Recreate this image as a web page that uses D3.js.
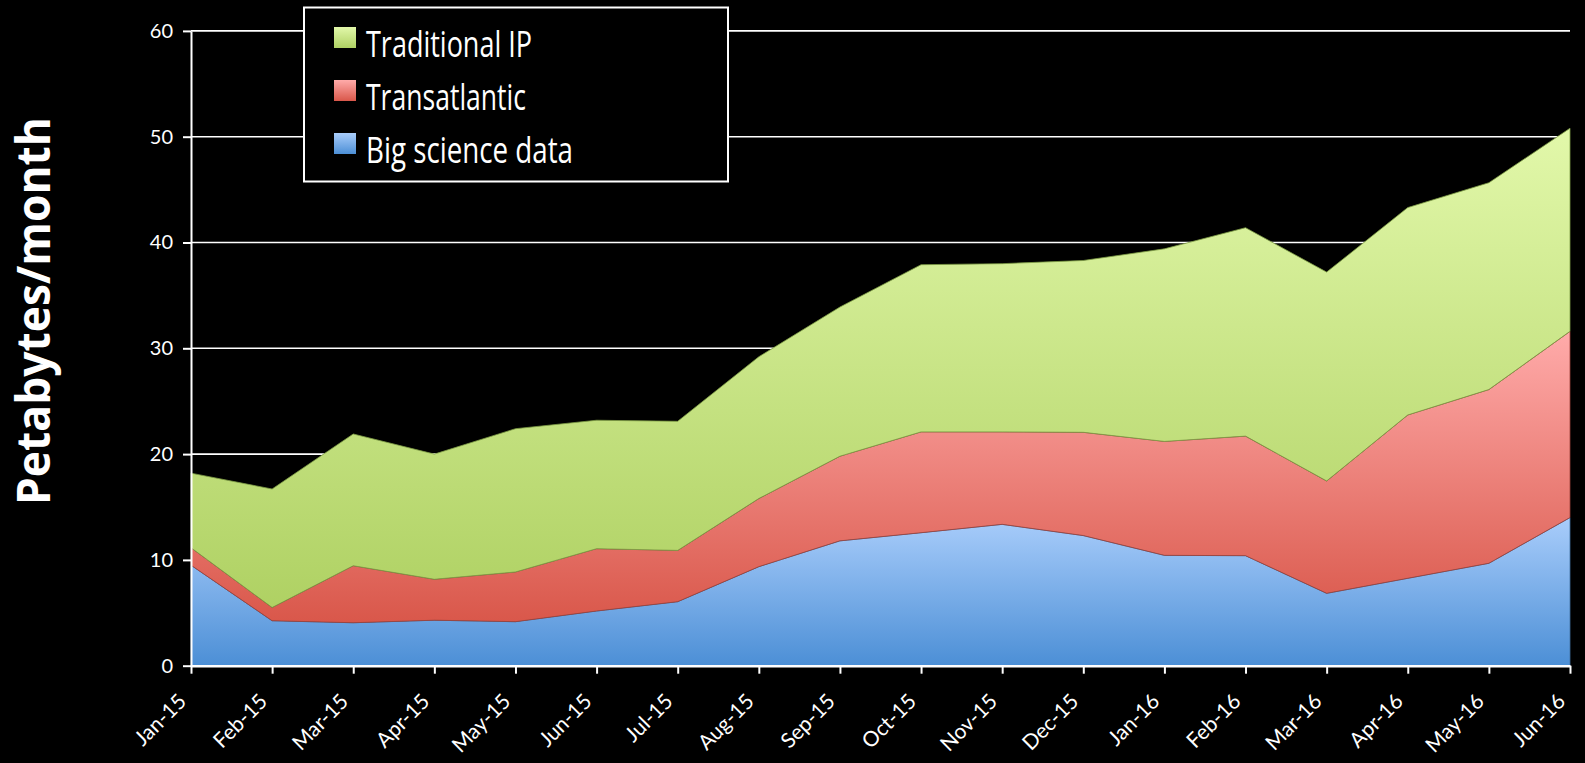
<!DOCTYPE html>
<html>
<head>
<meta charset="utf-8">
<script src="https://cdn.jsdelivr.net/npm/d3@7"></script>
<style>
  html, body { margin: 0; padding: 0; background: #000; }
  svg { display: block; }
</style>
</head>
<body>
<svg id="chart" width="1585" height="763"></svg>
<script>
const months = ["Jan-15","Feb-15","Mar-15","Apr-15","May-15","Jun-15","Jul-15","Aug-15","Sep-15","Oct-15","Nov-15","Dec-15","Jan-16","Feb-16","Mar-16","Apr-16","May-16","Jun-16"];
const bigScience    = [9.5, 4.25, 4.06, 4.3, 4.16, 5.17, 6.05, 9.36, 11.8, 12.57, 13.36, 12.3, 10.43, 10.4, 6.84, 8.26, 9.68, 14.0];
const transatlantic = [1.65, 1.25, 5.39, 3.87, 4.7, 5.89, 4.85, 6.44, 8.0, 9.53, 8.74, 9.76, 10.77, 11.3, 10.62, 15.44, 16.42, 17.6];
const traditionalIP = [7.05, 11.2, 12.45, 11.83, 13.54, 12.14, 12.2, 13.4, 14.1, 15.8, 15.9, 16.24, 18.2, 19.7, 19.74, 19.6, 19.55, 19.2];
const yTicks = [0, 10, 20, 30, 40, 50, 60];
const seriesNames = ["Big science data", "Transatlantic", "Traditional IP"];

const svg = d3.select("#chart");
const mLeft = 191, mRight = 1570, mTop = 30.9, mBottom = 665.7;

const x = d3.scalePoint().domain(months).range([mLeft, mRight]);
const y = d3.scaleLinear().domain([0, 60]).range([mBottom, mTop]);

const rows = months.map((m, i) => ({
  month: m,
  "Big science data": bigScience[i],
  "Transatlantic": transatlantic[i],
  "Traditional IP": traditionalIP[i]
}));
const stacked = d3.stack().keys(seriesNames)(rows);

const grads = {
  "Big science data": { top: "#a9cdfb", bottom: "#4c8fd6", stroke: "#3f6f9f" },
  "Transatlantic":    { top: "#ffabaa", bottom: "#d9574a", stroke: "#9a4038" },
  "Traditional IP":   { top: "#e2f8aa", bottom: "#afd163", stroke: "#7c9a44" }
};

const defs = svg.append("defs");
seriesNames.forEach((k, i) => {
  const g = defs.append("linearGradient").attr("id", "g" + i)
    .attr("x1", 0).attr("y1", 0).attr("x2", 0).attr("y2", 1);
  g.append("stop").attr("offset", "0%").attr("stop-color", grads[k].top);
  g.append("stop").attr("offset", "100%").attr("stop-color", grads[k].bottom);
});

// gridlines
svg.append("g").selectAll("line").data(yTicks.filter(d => d > 0)).join("line")
  .attr("x1", mLeft).attr("x2", mRight)
  .attr("y1", d => y(d)).attr("y2", d => y(d))
  .attr("stroke", "#fff").attr("stroke-width", 1.6);

// areas
const area = d3.area()
  .x(d => x(d.data.month))
  .y0(d => y(d[0]))
  .y1(d => y(d[1]));

svg.append("g").selectAll("path").data(stacked).join("path")
  .attr("d", area)
  .attr("fill", (d, i) => `url(#g${i})`)
  .attr("stroke", d => grads[d.key].stroke)
  .attr("stroke-width", 0.8)
  .attr("stroke-linejoin", "round");

// y axis
const yAxis = d3.axisLeft(y).tickValues(yTicks).tickSize(8).tickSizeOuter(0).tickPadding(10);
const gy = svg.append("g").attr("transform", `translate(${mLeft},0)`).call(yAxis);
gy.select(".domain").attr("stroke", "#fff").attr("stroke-width", 2);
gy.selectAll(".tick line").attr("stroke", "#fff").attr("stroke-width", 2);
gy.selectAll(".tick text").attr("fill", "#fff").style("font-family", "Lato, 'Open Sans', sans-serif").style("font-size", "20px");

// x axis
const xAxis = d3.axisBottom(x).tickSize(8).tickSizeOuter(0).tickPadding(6);
const gx = svg.append("g").attr("transform", `translate(0,${mBottom})`).call(xAxis);
gx.select(".domain").attr("stroke", "#fff").attr("stroke-width", 2.5);
gx.selectAll(".tick line").attr("stroke", "#fff").attr("stroke-width", 2);
gx.selectAll(".tick text")
  .attr("fill", "#fff")
  .style("font-family", "Lato, 'Open Sans', sans-serif")
  .style("font-size", "21px")
  .attr("text-anchor", "end")
  .attr("y", 0)
  .attr("dy", "0")
  .attr("transform", "translate(-4,37) rotate(-45)");

// y axis title
svg.append("text")
  .attr("transform", "translate(50,311) rotate(-90)")
  .attr("text-anchor", "middle")
  .attr("fill", "#fff")
  .style("font-family", "'Open Sans', Lato, sans-serif")
  .style("font-weight", "bold")
  .style("font-size", "46px")
  .attr("textLength", 388)
  .attr("lengthAdjust", "spacingAndGlyphs")
  .text("Petabytes/month");

// legend
const legend = svg.append("g");
legend.append("rect").attr("x", 304).attr("y", 7.5).attr("width", 424).attr("height", 174)
  .attr("fill", "#000").attr("stroke", "#fff").attr("stroke-width", 2);
const legendOrder = ["Traditional IP", "Transatlantic", "Big science data"];
const legendW = { "Traditional IP": 166, "Transatlantic": 160, "Big science data": 207 };
legendOrder.forEach((k, j) => {
  const idx = seriesNames.indexOf(k);
  const base = 57 + j * 53;
  legend.append("rect").attr("x", 334).attr("y", base - 30).attr("width", 22).attr("height", 21)
    .attr("fill", `url(#g${idx})`);
  legend.append("text")
    .attr("x", 366).attr("y", base)
    .attr("fill", "#fff")
    .style("font-family", "'Open Sans', Lato, sans-serif")
    .style("font-size", "36px")
    .attr("textLength", legendW[k])
    .attr("lengthAdjust", "spacingAndGlyphs")
    .text(k);
});
</script>
</body>
</html>
